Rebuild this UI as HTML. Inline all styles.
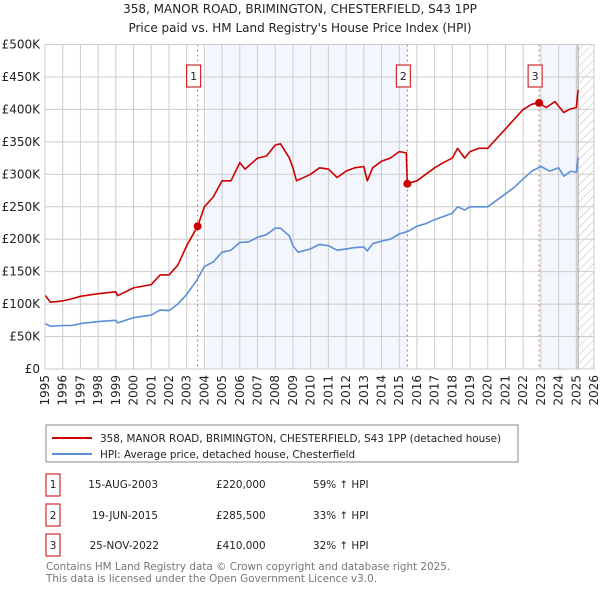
<!DOCTYPE html>
<html><head><meta charset="utf-8"><style>
body{margin:0;background:#fff;font-family:"Liberation Sans","DejaVu Sans",sans-serif;}
#wrap{position:relative;width:600px;height:590px;overflow:hidden;}
</style></head><body>
<div id="wrap">
<svg id="chart" width="600" height="590" xmlns="http://www.w3.org/2000/svg" font-family="DejaVu Sans, Liberation Sans, sans-serif">
<text x="300" y="13" text-anchor="middle" font-size="12" fill="#222">358, MANOR ROAD, BRIMINGTON, CHESTERFIELD, S43 1PP</text>
<text x="300" y="32" text-anchor="middle" font-size="12" fill="#222">Price paid vs. HM Land Registry's House Price Index (HPI)</text>
<defs><pattern id="hatch" width="6" height="6" patternUnits="userSpaceOnUse" patternTransform="rotate(45)"><line x1="0" y1="0" x2="0" y2="6" stroke="#bbb" stroke-width="1"/></pattern></defs>
<g id="bg"></g><g id="grid"></g><g id="series"></g><g id="axes"></g>
<rect x="46" y="425" width="472" height="37" fill="#fff" stroke="#888"/>
<line x1="52" y1="438" x2="92" y2="438" stroke="#cc0000" stroke-width="2"/>
<text x="100" y="442" font-size="10.4" fill="#222">358, MANOR ROAD, BRIMINGTON, CHESTERFIELD, S43 1PP (detached house)</text>
<line x1="52" y1="454" x2="92" y2="454" stroke="#5b8fd6" stroke-width="2"/>
<text x="100" y="458" font-size="10.4" fill="#222">HPI: Average price, detached house, Chesterfield</text>
<g font-size="10.4" fill="#222">
<rect x="46" y="474" width="14" height="22" fill="#fff" stroke="#cc0000"/><text x="53" y="488" text-anchor="middle">1</text>
<text x="158" y="488" text-anchor="end">15-AUG-2003</text><text x="216" y="488">£220,000</text><text x="313" y="488">59% ↑ HPI</text>
<rect x="46" y="504" width="14" height="22" fill="#fff" stroke="#cc0000"/><text x="53" y="519" text-anchor="middle">2</text>
<text x="158" y="519" text-anchor="end">19-JUN-2015</text><text x="216" y="519">£285,500</text><text x="313" y="519">33% ↑ HPI</text>
<rect x="46" y="534" width="14" height="22" fill="#fff" stroke="#cc0000"/><text x="53" y="549" text-anchor="middle">3</text>
<text x="159" y="549" text-anchor="end">25-NOV-2022</text><text x="216" y="549">£410,000</text><text x="313" y="549">32% ↑ HPI</text>
</g>
<text x="46" y="570" font-size="10.4" fill="#777">Contains HM Land Registry data © Crown copyright and database right 2025.</text>
<text x="46" y="582" font-size="10.4" fill="#777">This data is licensed under the Open Government Licence v3.0.</text>
</svg>
</div>
<script>
const hpiYears=[1995,1995.3,1996,1996.5,1997,1998,1999,1999.1,2000,2001,2001.5,2002,2002.5,2003,2003.6,2004,2004.5,2005,2005.5,2006,2006.5,2007,2007.5,2008,2008.3,2008.8,2009,2009.3,2010,2010.5,2011,2011.5,2012,2012.5,2013,2013.2,2013.5,2014,2014.5,2015,2015.5,2016,2016.5,2017,2017.5,2018,2018.3,2018.7,2019,2019.5,2020,2020.5,2021,2021.5,2022,2022.5,2023,2023.5,2024,2024.3,2024.7,2025,2025.1];
const hpiValues=[70,66,67,67,70,73,75,71,79,83,91,90,100,115,138,158,165,180,183,195,196,203,207,217,217,205,190,180,185,192,190,183,185,187,188,182,193,197,200,208,212,220,224,230,235,240,250,245,250,250,250,260,270,280,293,305,312,305,310,297,305,303,326];
const priceYears=[1995,1995.3,1996,1996.5,1997,1998,1999,1999.1,2000,2001,2001.5,2002,2002.5,2003,2003.62,2004,2004.5,2005,2005.5,2006,2006.3,2007,2007.5,2008,2008.3,2008.8,2009,2009.2,2010,2010.5,2011,2011.5,2012,2012.5,2013,2013.2,2013.5,2014,2014.5,2015,2015.4,2015.46,2016,2016.5,2017,2017.5,2018,2018.3,2018.7,2019,2019.5,2020,2020.5,2021,2021.5,2022,2022.5,2022.9,2023.3,2023.8,2024.3,2024.6,2025,2025.1];
const priceValues=[114,103,105,108,112,116,119,113,125,130,145,145,160,190,220,250,265,290,290,318,308,325,328,345,347,325,310,290,300,310,308,295,305,310,312,290,310,320,325,335,333,285.5,290,300,310,318,325,340,325,335,340,340,355,370,385,400,408,410,403,412,395,400,403,430];
const saleYears=[2003.62,2015.46,2022.9];
const saleValues=[220,285.5,410];
const saleLabels=["1","2","3"];
const yTicks=[0,50,100,150,200,250,300,350,400,450,500];
const yTickLabels=["£0","£50K","£100K","£150K","£200K","£250K","£300K","£350K","£400K","£450K","£500K"];
const xTicks=[1995,1996,1997,1998,1999,2000,2001,2002,2003,2004,2005,2006,2007,2008,2009,2010,2011,2012,2013,2014,2015,2016,2017,2018,2019,2020,2021,2022,2023,2024,2025,2026];

const L=45,R=594,T=44.5,B=369;
const X=y=>L+(y-1995)/(2026-1995)*(R-L);
const Y=v=>B-v/500*(B-T);
const NS="http://www.w3.org/2000/svg";
function mk(tag,parent,attrs){const e=document.createElementNS(NS,tag);for(const k in attrs)e.setAttribute(k,attrs[k]);parent.appendChild(e);return e;}
const bg=document.getElementById('bg'),grid=document.getElementById('grid'),ser=document.getElementById('series'),ax=document.getElementById('axes');
let r;
r=mk('rect',bg,{x:X(2004.1),y:T,width:X(saleYears[1])-X(2004.1),height:B-T,fill:'#f3f6fd'});


r=mk('rect',bg,{x:X(2023),y:T,width:X(2025.1)-X(2023),height:B-T,fill:'#f3f6fd'});


r=mk('rect',bg,{x:X(2025.1),y:T,width:R-X(2025.1),height:B-T,fill:'url(#hatch)'});


yTicks.forEach((v,i)=>{
 const l=mk('line',grid,{x1:L,x2:R,y1:Y(v),y2:Y(v),stroke:'#ccc','stroke-width':1});
 
 
 const t=mk('text',ax,{x:L-5,y:Y(v)+4,'text-anchor':'end','font-size':12,fill:'#222'});
 t.textContent=yTickLabels[i];
 
 
});
xTicks.forEach(y=>{
 const l=mk('line',grid,{x1:X(y),x2:X(y),y1:T,y2:B,stroke:'#ccc','stroke-width':1});
 
 
 const t=mk('text',ax,{x:0,y:0,'text-anchor':'end','font-size':12,fill:'#222',transform:`translate(${X(y)+4},${B+6}) rotate(-90)`});
 t.textContent=y;
 
 
});
r=mk('line',grid,{x1:X(2025.1),x2:X(2025.1),y1:T,y2:B,stroke:'#999','stroke-width':1});


saleYears.forEach((y,i)=>{
 const l=mk('line',grid,{x1:X(y),x2:X(y),y1:T,y2:B,stroke:'#e06666','stroke-width':1,'stroke-dasharray':'2,3'});
 
 
});
function path(xs,vs,color,name){
 const p=mk('path',ser,{d:xs.map((x,i)=>(i?'L':'M')+X(x).toFixed(1)+','+Y(vs[i]).toFixed(1)).join(''),fill:'none',stroke:color,'stroke-width':1.6,'stroke-linejoin':'round'});
 
 
}
path(hpiYears,hpiValues,'#5b8fd6','hpi-line');
path(priceYears,priceValues,'#cc0000','price-paid-line');
saleYears.forEach((y,i)=>{
 const c=mk('circle',ser,{cx:X(y),cy:Y(saleValues[i]),r:4,fill:'#cc0000'});
 
 
 const b=mk('rect',ser,{x:X(y)-11,y:65,width:14,height:22,fill:'#fff',stroke:'#cc0000'});
 
 
 const t=mk('text',ser,{x:X(y)-4,y:80,'text-anchor':'middle','font-size':11,fill:'#222'});
 t.textContent=saleLabels[i];
 
 
});
r=mk('rect',ax,{x:L,y:T,width:R-L,height:B-T,fill:'none',stroke:'#ccc'});


</script>
</body></html>
